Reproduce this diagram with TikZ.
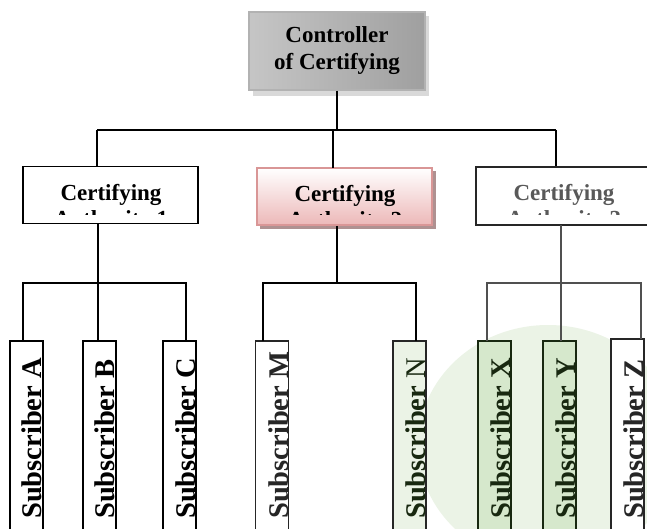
\documentclass[tikz,border=0pt]{standalone}
\usepackage{fontspec}
\setmainfont{Liberation Serif}
\definecolor{pinkline}{RGB}{217,150,150}
\definecolor{pinkfill}{RGB}{236,184,184}
\definecolor{pinkshadow}{RGB}{175,145,145}
\definecolor{wmgreen}{RGB}{235,243,230}
\definecolor{boxgreen}{RGB}{214,232,204}
\definecolor{darkgreen}{RGB}{24,40,16}
\definecolor{midgray}{RGB}{80,80,80}
\begin{document}
\begin{tikzpicture}[x=1pt,y=-1pt,
  conn/.style={line width=1.3pt,draw=black},
  conngray/.style={line width=1.3pt,draw=midgray},
  cabox/.style={rectangle,line width=1.4pt,minimum width=175,minimum height=57,inner sep=0},
  catext/.style={font=\bfseries\fontsize{23}{26}\selectfont,align=center,anchor=north,inner sep=0},
  subbox/.style={rectangle,line width=1.4pt,minimum width=33,minimum height=200,inner sep=0},
  subtext/.style={rotate=90,anchor=base west,inner sep=0,font=\bfseries\fontsize{28.5}{30}\selectfont}]
\useasboundingbox (0,0) rectangle (647,529);
% faint watermark
\fill[wmgreen] (548,445) ellipse [x radius=130, y radius=120];

% top node
\fill[gray!30] (253,16) rectangle (429,96);
\node[rectangle,draw=gray!60,line width=1.5pt,minimum width=176,minimum height=78,
  left color=gray!45,middle color=gray!22,right color=gray!75,
  font=\bfseries\fontsize{23}{27}\selectfont,align=center] (ctrl) at (337,51) {Controller\\of Certifying};

% certifying authority boxes
\node[cabox,draw=black,fill=white] (ca1) at (110.5,195) {};
\fill[pinkshadow] (260,171) rectangle (436,229);
\node[cabox,draw=pinkline,line width=2pt,top color=white,bottom color=pinkfill] (ca2) at (344.5,196.5) {};
\node[cabox,draw=black!85,fill=white,minimum width=182,minimum height=58] (ca3) at (567,196) {};

\begin{scope}
\clip (24,170) rectangle (197,215);
\node[catext] (ca1t) at (111,184) {Certifying\\Authority 1};
\end{scope}
\begin{scope}
\clip (258,170) rectangle (431,215);
\node[catext] (ca2t) at (345,185) {Certifying\\Authority 2};
\end{scope}
\begin{scope}
\clip (477,170) rectangle (647,215);
\node[catext,text=black!65] (ca3t) at (564,184) {Certifying\\Authority 3};
\end{scope}

% top connectors
\coordinate (h0) at (337,130);
\coordinate (d1) at (97,130);
\coordinate (d3) at (556,130);
\draw[conn] (ctrl.south) -- (h0);
\draw[conn] (d1) -- (d3);
\draw[conn] (d1) -- (d1 |- ca1.north);
\draw[conn] (333,130) -- (333,168);
\draw[conn] (d3) -- (d3 |- ca3.north);

% subscriber boxes
\node[subbox,draw=black,fill=white] (sa) at (26.5,441) {};
\node[subbox,draw=black,fill=white] (sb) at (99.5,441) {};
\node[subbox,draw=black,fill=white] (sc) at (179.5,441) {};
\node[subbox,draw=black!85,fill=white] (sm) at (272,441) {};
\node[subbox,draw=black!85,fill=wmgreen] (sn) at (409.5,441) {};
\node[subbox,draw=darkgreen,fill=boxgreen] (sx) at (494.5,441) {};
\node[subbox,draw=darkgreen,fill=boxgreen] (sy) at (559.5,441) {};
\node[subbox,draw=black!85,fill=white] (sz) at (627.5,439) {};

\node[subtext] (sat) at (41,519) {Subscriber A};
\node[subtext] (sbt) at (114,519) {Subscriber B};
\node[subtext] (sct) at (195,519) {Subscriber C};
\node[subtext,text=black!85] (smt) at (288,519) {Subscriber M};
\node[subtext,text=darkgreen] (snt) at (425,519) {Subscriber \mdseries N};
\node[subtext,text=darkgreen] (sxt) at (510,519) {Subscriber X};
\node[subtext,text=darkgreen] (syt) at (575,519) {Subscriber Y};
\node[subtext,text=black!85] (szt) at (643,519) {Subscriber Z};

% group 1 connectors
\coordinate (g1) at (98,283);
\draw[conn] (98,224) -- (g1);
\draw[conn] (23,341) |- (186,283) -- (186,341);
\draw[conn] (g1) -- (98,341);
% group 2
\coordinate (g2) at (337,283);
\draw[conn] (ca2.south -| g2) -- (g2);
\draw[conn] (263,341) |- (416,283) -- (416,341);
% group 3
\coordinate (g3) at (561,283);
\draw[conngray] (561,225) -- (g3);
\draw[conngray] (487,341) |- (641,283) -- (641,339);
\draw[conngray] (g3) -- (561,341);
\end{tikzpicture}
\end{document}
